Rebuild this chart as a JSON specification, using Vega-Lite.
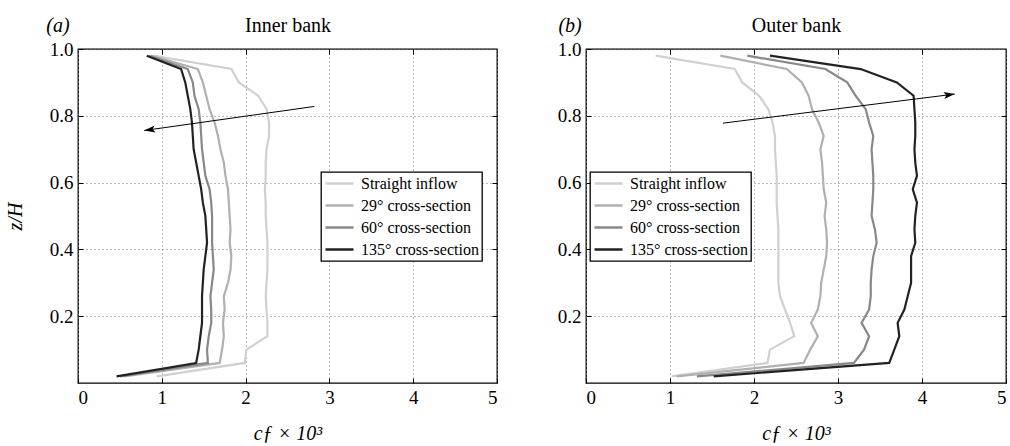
{
  "$schema": "https://vega.github.io/schema/vega-lite/v6.json",
  "padding": {"left": 4, "top": 14, "right": 0, "bottom": 0},
  "background": "white",
  "spacing": 57,
  "datasets": {
    "profiles": [
      {"bank":"inner","series":"Straight inflow","z":0.02,"cf":0.94},
      {"bank":"inner","series":"Straight inflow","z":0.06,"cf":1.99},
      {"bank":"inner","series":"Straight inflow","z":0.10,"cf":2.01},
      {"bank":"inner","series":"Straight inflow","z":0.14,"cf":2.26},
      {"bank":"inner","series":"Straight inflow","z":0.18,"cf":2.26},
      {"bank":"inner","series":"Straight inflow","z":0.22,"cf":2.25},
      {"bank":"inner","series":"Straight inflow","z":0.26,"cf":2.24},
      {"bank":"inner","series":"Straight inflow","z":0.30,"cf":2.25},
      {"bank":"inner","series":"Straight inflow","z":0.34,"cf":2.26},
      {"bank":"inner","series":"Straight inflow","z":0.38,"cf":2.26},
      {"bank":"inner","series":"Straight inflow","z":0.42,"cf":2.26},
      {"bank":"inner","series":"Straight inflow","z":0.46,"cf":2.25},
      {"bank":"inner","series":"Straight inflow","z":0.50,"cf":2.24},
      {"bank":"inner","series":"Straight inflow","z":0.54,"cf":2.24},
      {"bank":"inner","series":"Straight inflow","z":0.58,"cf":2.23},
      {"bank":"inner","series":"Straight inflow","z":0.62,"cf":2.24},
      {"bank":"inner","series":"Straight inflow","z":0.66,"cf":2.24},
      {"bank":"inner","series":"Straight inflow","z":0.70,"cf":2.25},
      {"bank":"inner","series":"Straight inflow","z":0.74,"cf":2.28},
      {"bank":"inner","series":"Straight inflow","z":0.78,"cf":2.28},
      {"bank":"inner","series":"Straight inflow","z":0.82,"cf":2.25},
      {"bank":"inner","series":"Straight inflow","z":0.86,"cf":2.15},
      {"bank":"inner","series":"Straight inflow","z":0.90,"cf":1.92},
      {"bank":"inner","series":"Straight inflow","z":0.94,"cf":1.83},
      {"bank":"inner","series":"Straight inflow","z":0.98,"cf":0.90},
      {"bank":"inner","series":"29° cross-section","z":0.02,"cf":0.55},
      {"bank":"inner","series":"29° cross-section","z":0.06,"cf":1.69},
      {"bank":"inner","series":"29° cross-section","z":0.10,"cf":1.72},
      {"bank":"inner","series":"29° cross-section","z":0.14,"cf":1.74},
      {"bank":"inner","series":"29° cross-section","z":0.18,"cf":1.73},
      {"bank":"inner","series":"29° cross-section","z":0.22,"cf":1.75},
      {"bank":"inner","series":"29° cross-section","z":0.26,"cf":1.74},
      {"bank":"inner","series":"29° cross-section","z":0.30,"cf":1.79},
      {"bank":"inner","series":"29° cross-section","z":0.34,"cf":1.82},
      {"bank":"inner","series":"29° cross-section","z":0.38,"cf":1.83},
      {"bank":"inner","series":"29° cross-section","z":0.42,"cf":1.81},
      {"bank":"inner","series":"29° cross-section","z":0.46,"cf":1.82},
      {"bank":"inner","series":"29° cross-section","z":0.50,"cf":1.81},
      {"bank":"inner","series":"29° cross-section","z":0.54,"cf":1.80},
      {"bank":"inner","series":"29° cross-section","z":0.58,"cf":1.79},
      {"bank":"inner","series":"29° cross-section","z":0.62,"cf":1.76},
      {"bank":"inner","series":"29° cross-section","z":0.66,"cf":1.74},
      {"bank":"inner","series":"29° cross-section","z":0.70,"cf":1.70},
      {"bank":"inner","series":"29° cross-section","z":0.74,"cf":1.67},
      {"bank":"inner","series":"29° cross-section","z":0.78,"cf":1.63},
      {"bank":"inner","series":"29° cross-section","z":0.82,"cf":1.57},
      {"bank":"inner","series":"29° cross-section","z":0.86,"cf":1.53},
      {"bank":"inner","series":"29° cross-section","z":0.90,"cf":1.49},
      {"bank":"inner","series":"29° cross-section","z":0.94,"cf":1.43},
      {"bank":"inner","series":"29° cross-section","z":0.98,"cf":0.87},
      {"bank":"inner","series":"60° cross-section","z":0.02,"cf":0.50},
      {"bank":"inner","series":"60° cross-section","z":0.06,"cf":1.55},
      {"bank":"inner","series":"60° cross-section","z":0.10,"cf":1.54},
      {"bank":"inner","series":"60° cross-section","z":0.14,"cf":1.56},
      {"bank":"inner","series":"60° cross-section","z":0.18,"cf":1.59},
      {"bank":"inner","series":"60° cross-section","z":0.22,"cf":1.59},
      {"bank":"inner","series":"60° cross-section","z":0.26,"cf":1.58},
      {"bank":"inner","series":"60° cross-section","z":0.30,"cf":1.60},
      {"bank":"inner","series":"60° cross-section","z":0.34,"cf":1.62},
      {"bank":"inner","series":"60° cross-section","z":0.38,"cf":1.61},
      {"bank":"inner","series":"60° cross-section","z":0.42,"cf":1.60},
      {"bank":"inner","series":"60° cross-section","z":0.46,"cf":1.60},
      {"bank":"inner","series":"60° cross-section","z":0.50,"cf":1.60},
      {"bank":"inner","series":"60° cross-section","z":0.54,"cf":1.59},
      {"bank":"inner","series":"60° cross-section","z":0.58,"cf":1.57},
      {"bank":"inner","series":"60° cross-section","z":0.62,"cf":1.52},
      {"bank":"inner","series":"60° cross-section","z":0.66,"cf":1.50},
      {"bank":"inner","series":"60° cross-section","z":0.70,"cf":1.48},
      {"bank":"inner","series":"60° cross-section","z":0.74,"cf":1.47},
      {"bank":"inner","series":"60° cross-section","z":0.78,"cf":1.46},
      {"bank":"inner","series":"60° cross-section","z":0.82,"cf":1.44},
      {"bank":"inner","series":"60° cross-section","z":0.86,"cf":1.39},
      {"bank":"inner","series":"60° cross-section","z":0.90,"cf":1.37},
      {"bank":"inner","series":"60° cross-section","z":0.94,"cf":1.31},
      {"bank":"inner","series":"60° cross-section","z":0.98,"cf":0.85},
      {"bank":"inner","series":"135° cross-section","z":0.02,"cf":0.46},
      {"bank":"inner","series":"135° cross-section","z":0.06,"cf":1.41},
      {"bank":"inner","series":"135° cross-section","z":0.10,"cf":1.44},
      {"bank":"inner","series":"135° cross-section","z":0.14,"cf":1.46},
      {"bank":"inner","series":"135° cross-section","z":0.18,"cf":1.48},
      {"bank":"inner","series":"135° cross-section","z":0.22,"cf":1.48},
      {"bank":"inner","series":"135° cross-section","z":0.26,"cf":1.48},
      {"bank":"inner","series":"135° cross-section","z":0.30,"cf":1.49},
      {"bank":"inner","series":"135° cross-section","z":0.34,"cf":1.50},
      {"bank":"inner","series":"135° cross-section","z":0.38,"cf":1.52},
      {"bank":"inner","series":"135° cross-section","z":0.42,"cf":1.54},
      {"bank":"inner","series":"135° cross-section","z":0.46,"cf":1.53},
      {"bank":"inner","series":"135° cross-section","z":0.50,"cf":1.52},
      {"bank":"inner","series":"135° cross-section","z":0.54,"cf":1.49},
      {"bank":"inner","series":"135° cross-section","z":0.58,"cf":1.47},
      {"bank":"inner","series":"135° cross-section","z":0.62,"cf":1.44},
      {"bank":"inner","series":"135° cross-section","z":0.66,"cf":1.41},
      {"bank":"inner","series":"135° cross-section","z":0.70,"cf":1.38},
      {"bank":"inner","series":"135° cross-section","z":0.74,"cf":1.37},
      {"bank":"inner","series":"135° cross-section","z":0.78,"cf":1.36},
      {"bank":"inner","series":"135° cross-section","z":0.82,"cf":1.34},
      {"bank":"inner","series":"135° cross-section","z":0.86,"cf":1.31},
      {"bank":"inner","series":"135° cross-section","z":0.90,"cf":1.28},
      {"bank":"inner","series":"135° cross-section","z":0.94,"cf":1.23},
      {"bank":"inner","series":"135° cross-section","z":0.98,"cf":0.82},
      {"bank":"outer","series":"Straight inflow","z":0.02,"cf":1.02},
      {"bank":"outer","series":"Straight inflow","z":0.06,"cf":2.16},
      {"bank":"outer","series":"Straight inflow","z":0.10,"cf":2.19},
      {"bank":"outer","series":"Straight inflow","z":0.14,"cf":2.48},
      {"bank":"outer","series":"Straight inflow","z":0.18,"cf":2.43},
      {"bank":"outer","series":"Straight inflow","z":0.22,"cf":2.37},
      {"bank":"outer","series":"Straight inflow","z":0.26,"cf":2.31},
      {"bank":"outer","series":"Straight inflow","z":0.30,"cf":2.29},
      {"bank":"outer","series":"Straight inflow","z":0.34,"cf":2.29},
      {"bank":"outer","series":"Straight inflow","z":0.38,"cf":2.29},
      {"bank":"outer","series":"Straight inflow","z":0.42,"cf":2.29},
      {"bank":"outer","series":"Straight inflow","z":0.46,"cf":2.29},
      {"bank":"outer","series":"Straight inflow","z":0.50,"cf":2.28},
      {"bank":"outer","series":"Straight inflow","z":0.54,"cf":2.27},
      {"bank":"outer","series":"Straight inflow","z":0.58,"cf":2.27},
      {"bank":"outer","series":"Straight inflow","z":0.62,"cf":2.27},
      {"bank":"outer","series":"Straight inflow","z":0.66,"cf":2.26},
      {"bank":"outer","series":"Straight inflow","z":0.70,"cf":2.25},
      {"bank":"outer","series":"Straight inflow","z":0.74,"cf":2.25},
      {"bank":"outer","series":"Straight inflow","z":0.78,"cf":2.22},
      {"bank":"outer","series":"Straight inflow","z":0.82,"cf":2.17},
      {"bank":"outer","series":"Straight inflow","z":0.86,"cf":2.06},
      {"bank":"outer","series":"Straight inflow","z":0.90,"cf":1.86},
      {"bank":"outer","series":"Straight inflow","z":0.94,"cf":1.77},
      {"bank":"outer","series":"Straight inflow","z":0.98,"cf":0.83},
      {"bank":"outer","series":"29° cross-section","z":0.02,"cf":1.08},
      {"bank":"outer","series":"29° cross-section","z":0.06,"cf":2.59},
      {"bank":"outer","series":"29° cross-section","z":0.10,"cf":2.67},
      {"bank":"outer","series":"29° cross-section","z":0.14,"cf":2.76},
      {"bank":"outer","series":"29° cross-section","z":0.18,"cf":2.68},
      {"bank":"outer","series":"29° cross-section","z":0.22,"cf":2.76},
      {"bank":"outer","series":"29° cross-section","z":0.26,"cf":2.79},
      {"bank":"outer","series":"29° cross-section","z":0.30,"cf":2.80},
      {"bank":"outer","series":"29° cross-section","z":0.34,"cf":2.83},
      {"bank":"outer","series":"29° cross-section","z":0.38,"cf":2.86},
      {"bank":"outer","series":"29° cross-section","z":0.42,"cf":2.87},
      {"bank":"outer","series":"29° cross-section","z":0.46,"cf":2.86},
      {"bank":"outer","series":"29° cross-section","z":0.50,"cf":2.84},
      {"bank":"outer","series":"29° cross-section","z":0.54,"cf":2.86},
      {"bank":"outer","series":"29° cross-section","z":0.58,"cf":2.83},
      {"bank":"outer","series":"29° cross-section","z":0.62,"cf":2.82},
      {"bank":"outer","series":"29° cross-section","z":0.66,"cf":2.81},
      {"bank":"outer","series":"29° cross-section","z":0.70,"cf":2.79},
      {"bank":"outer","series":"29° cross-section","z":0.74,"cf":2.83},
      {"bank":"outer","series":"29° cross-section","z":0.78,"cf":2.77},
      {"bank":"outer","series":"29° cross-section","z":0.82,"cf":2.69},
      {"bank":"outer","series":"29° cross-section","z":0.86,"cf":2.65},
      {"bank":"outer","series":"29° cross-section","z":0.90,"cf":2.57},
      {"bank":"outer","series":"29° cross-section","z":0.94,"cf":2.39},
      {"bank":"outer","series":"29° cross-section","z":0.98,"cf":1.60},
      {"bank":"outer","series":"60° cross-section","z":0.02,"cf":1.32},
      {"bank":"outer","series":"60° cross-section","z":0.06,"cf":3.19},
      {"bank":"outer","series":"60° cross-section","z":0.10,"cf":3.31},
      {"bank":"outer","series":"60° cross-section","z":0.14,"cf":3.37},
      {"bank":"outer","series":"60° cross-section","z":0.18,"cf":3.28},
      {"bank":"outer","series":"60° cross-section","z":0.22,"cf":3.37},
      {"bank":"outer","series":"60° cross-section","z":0.26,"cf":3.39},
      {"bank":"outer","series":"60° cross-section","z":0.30,"cf":3.39},
      {"bank":"outer","series":"60° cross-section","z":0.34,"cf":3.40},
      {"bank":"outer","series":"60° cross-section","z":0.38,"cf":3.42},
      {"bank":"outer","series":"60° cross-section","z":0.42,"cf":3.46},
      {"bank":"outer","series":"60° cross-section","z":0.46,"cf":3.44},
      {"bank":"outer","series":"60° cross-section","z":0.50,"cf":3.40},
      {"bank":"outer","series":"60° cross-section","z":0.54,"cf":3.41},
      {"bank":"outer","series":"60° cross-section","z":0.58,"cf":3.42},
      {"bank":"outer","series":"60° cross-section","z":0.62,"cf":3.42},
      {"bank":"outer","series":"60° cross-section","z":0.66,"cf":3.41},
      {"bank":"outer","series":"60° cross-section","z":0.70,"cf":3.40},
      {"bank":"outer","series":"60° cross-section","z":0.74,"cf":3.42},
      {"bank":"outer","series":"60° cross-section","z":0.78,"cf":3.37},
      {"bank":"outer","series":"60° cross-section","z":0.82,"cf":3.33},
      {"bank":"outer","series":"60° cross-section","z":0.86,"cf":3.21},
      {"bank":"outer","series":"60° cross-section","z":0.90,"cf":3.11},
      {"bank":"outer","series":"60° cross-section","z":0.94,"cf":2.85},
      {"bank":"outer","series":"60° cross-section","z":0.98,"cf":1.92},
      {"bank":"outer","series":"135° cross-section","z":0.02,"cf":1.52},
      {"bank":"outer","series":"135° cross-section","z":0.06,"cf":3.61},
      {"bank":"outer","series":"135° cross-section","z":0.10,"cf":3.67},
      {"bank":"outer","series":"135° cross-section","z":0.14,"cf":3.73},
      {"bank":"outer","series":"135° cross-section","z":0.18,"cf":3.71},
      {"bank":"outer","series":"135° cross-section","z":0.22,"cf":3.79},
      {"bank":"outer","series":"135° cross-section","z":0.26,"cf":3.83},
      {"bank":"outer","series":"135° cross-section","z":0.30,"cf":3.87},
      {"bank":"outer","series":"135° cross-section","z":0.34,"cf":3.87},
      {"bank":"outer","series":"135° cross-section","z":0.38,"cf":3.87},
      {"bank":"outer","series":"135° cross-section","z":0.42,"cf":3.92},
      {"bank":"outer","series":"135° cross-section","z":0.46,"cf":3.91},
      {"bank":"outer","series":"135° cross-section","z":0.50,"cf":3.92},
      {"bank":"outer","series":"135° cross-section","z":0.54,"cf":3.94},
      {"bank":"outer","series":"135° cross-section","z":0.58,"cf":3.89},
      {"bank":"outer","series":"135° cross-section","z":0.62,"cf":3.94},
      {"bank":"outer","series":"135° cross-section","z":0.66,"cf":3.92},
      {"bank":"outer","series":"135° cross-section","z":0.70,"cf":3.91},
      {"bank":"outer","series":"135° cross-section","z":0.74,"cf":3.92},
      {"bank":"outer","series":"135° cross-section","z":0.78,"cf":3.92},
      {"bank":"outer","series":"135° cross-section","z":0.82,"cf":3.91},
      {"bank":"outer","series":"135° cross-section","z":0.86,"cf":3.90},
      {"bank":"outer","series":"135° cross-section","z":0.90,"cf":3.70},
      {"bank":"outer","series":"135° cross-section","z":0.94,"cf":3.27},
      {"bank":"outer","series":"135° cross-section","z":0.98,"cf":2.19}
    ],
    "arrows": [
      {"bank":"inner","part":"tail","step":0,"x":2.82,"z":0.828},
      {"bank":"inner","part":"head","step":1,"x":0.79,"z":0.756},
      {"bank":"outer","part":"tail","step":0,"x":1.63,"z":0.778},
      {"bank":"outer","part":"head","step":1,"x":4.39,"z":0.865}
    ],
    "tags": [
      {"bank":"inner","label":"(a)","x":-0.24,"z":1.07},
      {"bank":"outer","label":"(b)","x":-0.19,"z":1.07}
    ]
  },
  "resolve": {"scale": {"color": "independent"}, "legend": {"color": "independent"}},
  "hconcat": [
    {
      "width": 419,
      "height": 334,
      "resolve": {"scale": {"x": "independent", "y": "independent"}},
      "layer": [
        {
          "layer": [
            {
              "data": {"name": "profiles"},
              "transform": [{"filter": "datum.bank === 'inner'"}],
              "mark": {"type": "line", "strokeWidth": 2.2},
              "encoding": {
                "x": {"field": "cf", "type": "quantitative", "scale": {"domain": [0, 5]},
                      "axis": {"orient": "bottom", "values": [0,1,2,3,4,5], "format": "d", "title": "cƒ × 10³", "titleFontStyle": "italic"}},
                "y": {"field": "z", "type": "quantitative", "scale": {"domain": [0, 1]},
                      "axis": {"orient": "left", "values": [0.2,0.4,0.6,0.8,1.0], "format": ".1f", "title": "z/H", "titleFontStyle": "italic", "titlePadding": 24}},
                "color": {"field": "series", "type": "nominal",
                          "scale": {"domain": ["Straight inflow","29° cross-section","60° cross-section","135° cross-section"],
                                    "range": ["#d0d0d0","#b0b0b0","#888888","#222222"]},
                          "legend": {"orient": "none", "legendX": 243, "legendY": 123}},
                "order": {"field": "z", "type": "quantitative"}
              }
            },
            {
              "data": {"name": "arrows"},
              "transform": [{"filter": "datum.bank === 'inner'"}],
              "mark": {"type": "line", "color": "black", "strokeWidth": 1},
              "encoding": {
                "x": {"field": "x", "type": "quantitative"},
                "y": {"field": "z", "type": "quantitative"},
                "order": {"field": "step", "type": "quantitative"}
              }
            },
            {
              "data": {"name": "arrows"},
              "transform": [{"filter": "datum.bank === 'inner' && datum.part === 'head'"}],
              "mark": {"type": "point", "shape": "M0,0L-0.7,2.2L0,1.7L0.7,2.2Z", "filled": true, "color": "black", "opacity": 1, "size": 100, "angle": 262},
              "encoding": {
                "x": {"field": "x", "type": "quantitative"},
                "y": {"field": "z", "type": "quantitative"}
              }
            },
            {
              "data": {"name": "tags"},
              "transform": [{"filter": "datum.bank === 'inner'"}],
              "mark": {"type": "text", "fontSize": 20, "fontStyle": "italic", "font": "Liberation Serif", "color": "black"},
              "encoding": {
                "x": {"field": "x", "type": "quantitative"},
                "y": {"field": "z", "type": "quantitative"},
                "text": {"field": "label"}
              }
            }
          ]
        },
        {
          "data": {"name": "arrows"},
          "mark": {"type": "point", "opacity": 0},
          "encoding": {
            "x": {"field": "x", "type": "quantitative", "scale": {"domain": [0, 5]},
                  "axis": {"orient": "top", "values": [1,2,3,4], "labels": false, "grid": false, "title": "Inner bank", "titlePadding": 13}},
            "y": {"field": "z", "type": "quantitative", "scale": {"domain": [0, 1]},
                  "axis": {"orient": "right", "values": [0.2,0.4,0.6,0.8], "labels": false, "grid": false, "title": null}}
          }
        }
      ]
    },
    {
      "width": 420,
      "height": 334,
      "resolve": {"scale": {"x": "independent", "y": "independent"}},
      "layer": [
        {
          "layer": [
            {
              "data": {"name": "profiles"},
              "transform": [{"filter": "datum.bank === 'outer'"}],
              "mark": {"type": "line", "strokeWidth": 2.2},
              "encoding": {
                "x": {"field": "cf", "type": "quantitative", "scale": {"domain": [0, 5]},
                      "axis": {"orient": "bottom", "values": [0,1,2,3,4,5], "format": "d", "title": "cƒ × 10³", "titleFontStyle": "italic"}},
                "y": {"field": "z", "type": "quantitative", "scale": {"domain": [0, 1]},
                      "axis": {"orient": "left", "values": [0.2,0.4,0.6,0.8,1.0], "format": ".1f", "title": null}},
                "color": {"field": "series", "type": "nominal",
                          "scale": {"domain": ["Straight inflow","29° cross-section","60° cross-section","135° cross-section"],
                                    "range": ["#d0d0d0","#b0b0b0","#888888","#222222"]},
                          "legend": {"orient": "none", "legendX": 4, "legendY": 123}},
                "order": {"field": "z", "type": "quantitative"}
              }
            },
            {
              "data": {"name": "arrows"},
              "transform": [{"filter": "datum.bank === 'outer'"}],
              "mark": {"type": "line", "color": "black", "strokeWidth": 1},
              "encoding": {
                "x": {"field": "x", "type": "quantitative"},
                "y": {"field": "z", "type": "quantitative"},
                "order": {"field": "step", "type": "quantitative"}
              }
            },
            {
              "data": {"name": "arrows"},
              "transform": [{"filter": "datum.bank === 'outer' && datum.part === 'head'"}],
              "mark": {"type": "point", "shape": "M0,0L-0.7,2.2L0,1.7L0.7,2.2Z", "filled": true, "color": "black", "opacity": 1, "size": 100, "angle": 82.6},
              "encoding": {
                "x": {"field": "x", "type": "quantitative"},
                "y": {"field": "z", "type": "quantitative"}
              }
            },
            {
              "data": {"name": "tags"},
              "transform": [{"filter": "datum.bank === 'outer'"}],
              "mark": {"type": "text", "fontSize": 20, "fontStyle": "italic", "font": "Liberation Serif", "color": "black"},
              "encoding": {
                "x": {"field": "x", "type": "quantitative"},
                "y": {"field": "z", "type": "quantitative"},
                "text": {"field": "label"}
              }
            }
          ]
        },
        {
          "data": {"name": "arrows"},
          "mark": {"type": "point", "opacity": 0},
          "encoding": {
            "x": {"field": "x", "type": "quantitative", "scale": {"domain": [0, 5]},
                  "axis": {"orient": "top", "values": [1,2,3,4], "labels": false, "grid": false, "title": "Outer bank", "titlePadding": 13}},
            "y": {"field": "z", "type": "quantitative", "scale": {"domain": [0, 1]},
                  "axis": {"orient": "right", "values": [0.2,0.4,0.6,0.8], "labels": false, "grid": false, "title": null}}
          }
        }
      ]
    }
  ],
  "config": {
    "font": "Liberation Serif",
    "view": {"stroke": "black", "strokeWidth": 1.3},
    "axis": {
      "labelFont": "Liberation Serif", "labelFontSize": 19, "labelColor": "black",
      "titleFont": "Liberation Serif", "titleFontSize": 20, "titleFontWeight": "normal", "titleColor": "black",
      "domain": false, "tickColor": "black", "tickSize": -5, "labelPadding": 10,
      "grid": true, "gridDash": [1, 3], "gridColor": "#777", "gridWidth": 1
    },
    "axisX": {"titlePadding": 16},
    "legend": {
      "title": null, "symbolType": "M-1,0L3,0", "symbolSize": 196, "symbolStrokeWidth": 2.5,
      "labelFont": "Liberation Serif", "labelFontSize": 16, "labelColor": "black", "labelOffset": 20,
      "rowPadding": 5, "padding": 3, "strokeColor": "black", "strokeWidth": 1.3, "fillColor": "white"
    }
  }
}
